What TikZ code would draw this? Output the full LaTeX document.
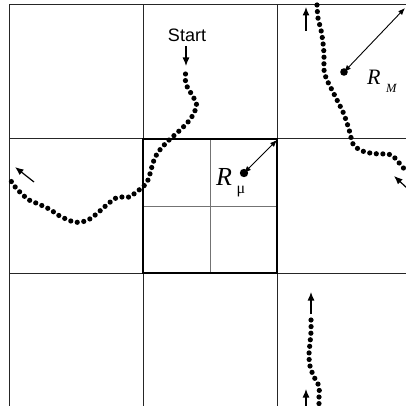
\documentclass[tikz,border=0pt]{standalone}
\usepackage{fontspec}
\setmainfont{Liberation Serif}
\newfontfamily\arialf{Liberation Sans}
\usetikzlibrary{arrows.meta}
\tikzset{
  gridline/.style={line width=1pt, draw=black!85},
  innerline/.style={line width=1pt, draw=black!55},
  boldbox/.style={line width=2.8pt, draw=black},
  walk/.style={draw=black, line width=5.2pt, line cap=round, dash pattern=on 0pt off 6.6pt},
  movearrow/.style={line width=1.2pt, -{Latex[length=8.5pt,width=7pt]}},
  radarrow/.style={line width=0.9pt, {Latex[length=7pt,width=5.5pt]}-{Latex[length=7pt,width=5.5pt]}},
  bigdot/.style={fill=black}
}
\begin{document}
\begin{tikzpicture}[x=1pt,y=-1pt]
\useasboundingbox (0,0) rectangle (406,406);
% grid
\draw[gridline] (9,406) -- (9,5) -- (406,5);
\draw[gridline] (143,5) -- (143,406);
\draw[gridline] (277,5) -- (277,406);
\draw[gridline] (9,139) -- (406,139);
\draw[gridline] (9,273) -- (406,273);
% inner lines of the central cell
\draw[innerline] (210,139) -- (210,273);
\draw[innerline] (143,206) -- (277,206);
\draw[boldbox] (143,139) rectangle (277,273);

% start walk
\node[font=\arialf\fontsize{18}{20}\selectfont] (start) at (187,35) {Start};
\coordinate (s1) at (186,46);
\coordinate (s2) at (186,66);
\draw[movearrow] (s1) -- (s2);
\draw[walk] plot[smooth, tension=0.6] coordinates {
 (185.5,74) (186,84) (192,95) (196.5,104) (194,113) (188,122) (178,132)
 (168,141) (159,151) (154,160) (151,170) (148,180) (143,187) (136,192)
 (130,197) (122,197) (116,198) (109,203) (101,210) (94,216) (88,220)
 (81,222) (74,222) (66,219) (58,215) (51,210) (43,206) (36,203)
 (29,200) (23,195) (16,188) (11,181)};
\coordinate (l1) at (34,182);
\coordinate (l2) at (15,167);
\draw[movearrow] (l1) -- (l2);

% upper right walk
\draw[walk] plot[smooth, tension=0.6] coordinates {
 (317,5) (318,18) (321,30) (323,43) (324,55) (324,70) (326,78) (332,90)
 (338,102) (343,112) (347,123) (350,133) (353,144) (360,150) (370,153)
 (380,154) (388,154) (394,157) (400,164) (406,171)};
\coordinate (u1) at (306,31);
\coordinate (u2) at (306,7);
\draw[movearrow] (u1) -- (u2);
\coordinate (r1) at (408,189);
\coordinate (r2) at (394,176);
\draw[movearrow] (r1) -- (r2);

% bottom right walk
\draw[walk] plot[smooth, tension=0.6] coordinates {
 (311,320) (311,332) (310,343) (309,355) (310,366) (314,377) (319,386) (319,396) (319,408)};
\coordinate (b1) at (311,314);
\coordinate (b2) at (311,292);
\draw[movearrow] (b1) -- (b2);
\coordinate (c1) at (306,412);
\coordinate (c2) at (306,389);
\draw[movearrow] (c1) -- (c2);

% R_M
\fill[bigdot] (344,72) circle (3.8pt);
\coordinate (rm) at (344,72);
\coordinate (rmend) at (405,8);
\draw[radarrow] (rm) -- (rmend);
\node[anchor=base west, inner sep=0pt, font=\fontsize{22}{24}\selectfont\itshape] (RM) at (367,85) {R};
\node[anchor=base west, inner sep=0pt, font=\fontsize{12.5}{14}\selectfont\itshape] (RMs) at (386,93) {M};

% R_mu
\fill[bigdot] (244,173) circle (4.2pt);
\coordinate (ru) at (244,173);
\coordinate (ruend) at (277,140);
\draw[radarrow] (ru) -- (ruend);
\node[anchor=base west, inner sep=0pt, font=\fontsize{26}{28}\selectfont\itshape] (RU) at (216,185) {R};
\node[anchor=base west, inner sep=0pt, font=\fontsize{16}{18}\selectfont] (RUs) at (236.5,193) {μ};
\end{tikzpicture}
\end{document}
